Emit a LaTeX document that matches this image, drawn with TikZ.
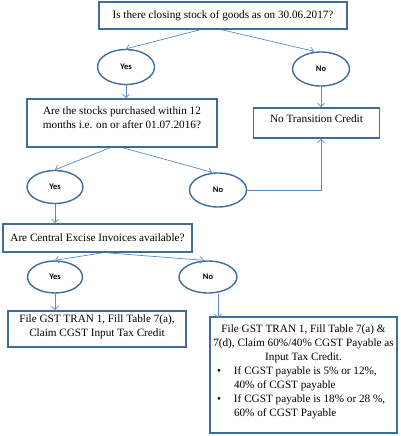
\documentclass[tikz,border=0pt]{standalone}
\usepackage{fontspec}
\setmainfont{Liberation Serif}
\newfontfamily\labfont{Carlito}
\usetikzlibrary{arrows.meta,shapes.geometric}
\definecolor{boxc}{RGB}{62,108,156}
\definecolor{linec}{RGB}{88,138,196}
\begin{document}
\begin{tikzpicture}[x=1pt,y=-1pt,
  box/.style={draw=boxc, line width=1.6pt, rectangle, align=center, inner sep=0pt,
    font=\fontsize{11.2}{14}\selectfont},
  ell/.style={draw=boxc, line width=1.4pt, ellipse, inner sep=0pt,
    font=\labfont\bfseries\fontsize{8.5}{10}\selectfont},
  conn/.style={draw=linec, line width=0.7pt, -{Straight Barb[length=3.5pt,width=7pt]}}]
\useasboundingbox (0,0) rectangle (400,436);

\node[box, minimum width=248pt, minimum height=27pt] (top) at (223,15.5)
  {Is there closing stock of goods as on 30.06.2017?};
\node[ell, minimum width=57pt, minimum height=35pt] (yes1) at (126,67) {Yes};
\node[ell, minimum width=57pt, minimum height=34pt] (no1) at (321,69) {No};
\node[box, minimum width=190pt, minimum height=48pt] (q2) at (122,123)
  {Are the stocks purchased within 12\\months i.e. on or after 01.07.2016?\\[-3pt]\mbox{}};
\node[box, minimum width=126pt, minimum height=30pt] (ntc) at (316.5,123)
  {No Transition Credit\\[-5pt]\mbox{}};
\node[ell, minimum width=56pt, minimum height=33pt] (yes2) at (55,187) {Yes};
\node[ell, minimum width=57pt, minimum height=34pt] (no2) at (218,190) {No};
\node[box, minimum width=189pt, minimum height=28pt] (q3) at (97.5,238)
  {Are Central Excise Invoices available?};
\node[ell, minimum width=55pt, minimum height=32pt] (yes3) at (55,277) {Yes};
\node[ell, minimum width=58pt, minimum height=32pt] (no3) at (208,277) {No};
\node[box, minimum width=178pt, minimum height=36pt] (b4) at (97,329)
  {File GST TRAN 1, Fill Table 7(a),\\Claim CGST Input Tax Credit\\[-8pt]\mbox{}};
\node[box, minimum width=187pt, minimum height=116pt] (b5) at (303.5,375)
  {\begin{minipage}{181pt}
   {\centering File GST TRAN 1, Fill Table 7(a) \&\\7(d), Claim 60\%/40\% CGST Payable as\\Input Tax Credit.\par}
   \raggedright
   \hangindent=21pt \hangafter=1 \hspace*{4pt}\makebox[17pt][l]{\textbullet}If CGST payable is 5\% or 12\%,\newline 40\% of CGST payable\par
   \hangindent=21pt \hangafter=1 \hspace*{4pt}\makebox[17pt][l]{\textbullet}If CGST payable is 18\% or 28 \%,\newline 60\% of CGST Payable\par
   \vspace*{6pt}
   \end{minipage}};

\draw[conn] ([xshift=-23pt]top.south) -- (yes1.north);
\draw[conn] ([xshift=-1pt]top.south) -- ([xshift=-7pt]no1.north);
\draw[conn] (no1.south) -- (no1.south |- ntc.north);
\draw[conn] (yes1.south) -- (yes1.south |- q2.north);
\draw[conn] ([xshift=-12pt]q2.south) -- (yes2.north);
\draw[conn] ([xshift=1pt]q2.south) -- ([xshift=-6pt]no2.north);
\draw[conn] (no2.east) -| (no1.south |- ntc.south);
\draw[conn] (yes2.south) -- (yes2.south |- q3.north);
\draw[conn] ([xshift=5pt]q3.south) -- (yes3.north);
\draw[conn] ([xshift=9pt]q3.south) -- ([xshift=-4pt]no3.north);
\draw[conn] (yes3.south) -- (yes3.south |- b4.north);
\draw[conn] ([xshift=10pt]no3.south) -- ([xshift=10pt,yshift=-2pt]no3.south |- b5.north);
\end{tikzpicture}
\end{document}
